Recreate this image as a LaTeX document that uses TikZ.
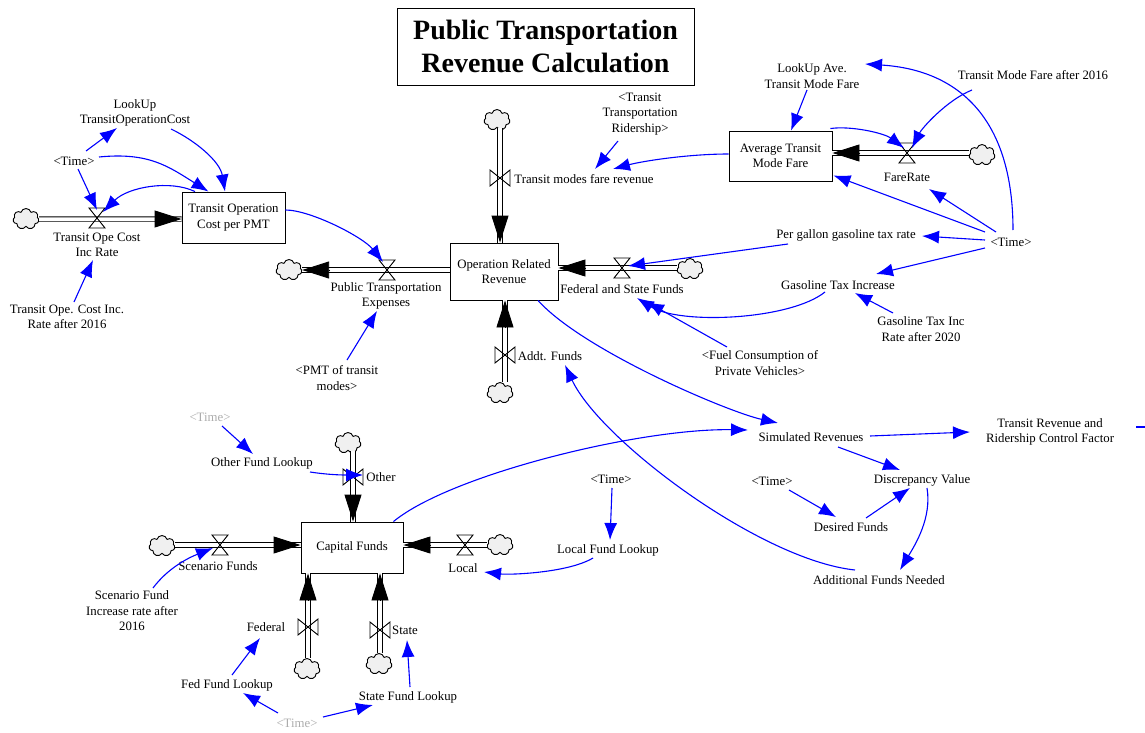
\documentclass[tikz,border=0pt]{standalone}
\usepackage{fontspec}
\setmainfont{Liberation Serif}
\usetikzlibrary{arrows.meta,shapes.symbols,calc}
\newcommand\vfont{\fontsize{12.8}{15.5}\selectfont}
\newcommand\titlefont{\fontsize{28}{33}\selectfont\bfseries}
\tikzset{
  stock/.style={draw, line width=0.9pt, align=center, inner sep=1pt, font=\vfont},
  var/.style={align=center, inner sep=1pt, font=\vfont},
  shadowvar/.style={var, text=gray!65},
  sink/.style={cloud, cloud puffs=7, aspect=1.25, draw, line width=0.9pt, fill=gray!12, minimum width=26pt, minimum height=21pt, inner sep=0pt},
  pipe/.style={draw=black, double=white, double distance=3.5pt, line width=0.9pt},
  flowtip/.style={-{Triangle[length=27pt,width=17pt]}, line width=0.9pt},
  link/.style={blue, line width=1.1pt, -{Latex[length=17pt,width=13pt]}},
  hvalve/.pic={\draw[line width=0.9pt] (-8,-10) -- (8,-10) -- (-8,10) -- (8,10) -- cycle;},
  vvalve/.pic={\draw[line width=0.9pt] (-10,-8) -- (-10,8) -- (10,-8) -- (10,8) -- cycle;}
}
\begin{document}
\begin{tikzpicture}[x=1pt,y=-1pt]
\useasboundingbox (0,0) rectangle (1145,733);
\node[draw, line width=0.9pt, minimum width=297pt, minimum height=77pt, align=center, font=\titlefont] (title) at (545.5,46.5) {Public Transportation\\Revenue Calculation};

% stocks
\node[stock, minimum width=103pt, minimum height=51pt] (toc) at (233.5,217.5) {Transit Operation\\Cost per PMT};
\node[stock, minimum width=108pt, minimum height=57pt] (orr) at (504,271.5) {Operation Related\\Revenue};
\node[stock, minimum width=103pt, minimum height=50pt] (atmf) at (780.5,156) {Average Transit\\Mode Fare};
\node[stock, minimum width=102pt, minimum height=51pt] (cf) at (352,547.5) {Capital Funds};

% clouds
\node[sink] (c1) at (26,219) {};
\node[sink] (c2) at (289,270) {};
\node[sink] (c3) at (497,120) {};
\node[sink] (c4) at (690,269) {};
\node[sink] (c5) at (500,393) {};
\node[sink] (c6) at (982,155) {};
\node[sink] (c7) at (348,443) {};
\node[sink] (c8) at (162,546) {};
\node[sink] (c9) at (500,545) {};
\node[sink] (c10) at (307,669) {};
\node[sink] (c11) at (379,664) {};

% valve positions
\coordinate (vtoc) at (97,218);
\coordinate (vpte) at (387,270);
\coordinate (vfare) at (500,178);
\coordinate (vfsf) at (622,268);
\coordinate (vaddt) at (505,355);
\coordinate (vfr) at (907,153);
\coordinate (voth) at (353,477);
\coordinate (vscen) at (220,545);
\coordinate (vloc) at (465,545);
\coordinate (vfed) at (308,627);
\coordinate (vsta) at (380,630);

% flows
\draw[pipe] (c1.east) -- (c1 -| toc.west);
\draw[flowtip] ($(c1 -| toc.west)+(-27,0)$) -- (c1 -| toc.west);
\draw[pipe] (vpte -| orr.west) -- (c2.east |- vpte);
\draw[flowtip] ($(c2.east |- vpte)+(28,0)$) -- (c2.east |- vpte);
\draw[pipe] (vfare |- c3.south) -- (vfare |- orr.north);
\draw[flowtip] ($(vfare |- orr.north)+(0,-27)$) -- (vfare |- orr.north);
\draw[pipe] (c4.west |- vfsf) -- (vfsf -| orr.east);
\draw[flowtip] ($(vfsf -| orr.east)+(27,0)$) -- (vfsf -| orr.east);
\draw[pipe] (vaddt |- c5.north) -- (vaddt |- orr.south);
\draw[flowtip] ($(vaddt |- orr.south)+(0,27)$) -- (vaddt |- orr.south);
\draw[pipe] (c6.west |- vfr) -- (vfr -| atmf.east);
\draw[flowtip] ($(vfr -| atmf.east)+(28,0)$) -- (vfr -| atmf.east);
\draw[pipe] (voth |- c7.south) -- (voth |- cf.north);
\draw[flowtip] ($(voth |- cf.north)+(0,-27)$) -- (voth |- cf.north);
\draw[pipe] (c8.east |- vscen) -- (vscen -| cf.west);
\draw[flowtip] ($(vscen -| cf.west)+(-27,0)$) -- (vscen -| cf.west);
\draw[pipe] (c9.west |- vloc) -- (vloc -| cf.east);
\draw[flowtip] ($(vloc -| cf.east)+(27,0)$) -- (vloc -| cf.east);
\draw[pipe] (vfed |- c10.north) -- (vfed |- cf.south);
\draw[flowtip] ($(vfed |- cf.south)+(0,27)$) -- (vfed |- cf.south);
\draw[pipe] (vsta |- c11.north) -- (vsta |- cf.south);
\draw[flowtip] ($(vsta |- cf.south)+(0,27)$) -- (vsta |- cf.south);

% valves
\foreach \v in {vtoc,vpte,vfsf,vfr,vscen,vloc} \pic at (\v) {hvalve};
\foreach \v in {vfare,vaddt,voth,vfed,vsta} \pic at (\v) {vvalve};

\node[var] (vtocl) at (97,245) {Transit Ope Cost\\Inc Rate};
\node[var] (vptel) at (386,296) {Public Transportation\\Expenses};
\node[var] (vfarel) at (584,179) {Transit modes fare revenue};
\node[var] (vfsfl) at (622,289) {Federal and State Funds};
\node[var] (vaddtl) at (550,356) {Addt. Funds};
\node[var] (vfrl) at (907,177) {FareRate};
\node[var] (vothl) at (381,477) {Other};
\node[var] (vscenl) at (218,566) {Scenario Funds};
\node[var] (vlocl) at (463,568) {Local};
\node[var] (vfedl) at (266,627) {Federal};
\node[var] (vstal) at (405,630) {State};

% auxiliaries
\node[var] (lutoc) at (135,113) {LookUp\\TransitOperationCost};
\node[var] (time1) at (74,161) {<Time>};
\node[var] (toc16) at (67,317) {Transit Ope. Cost Inc.\\Rate after 2016};
\node[var] (rider) at (640,114) {<Transit\\Transportation\\Ridership>};
\node[var] (pmt) at (337,378) {<PMT of transit\\modes>};
\node[var] (luave) at (812,76) {LookUp Ave.\\Transit Mode Fare};
\node[var] (tmf16) at (1033,75) {Transit Mode Fare after 2016};
\node[var] (time2) at (1011,242) {<Time>};
\node[var] (pgt) at (846,235) {Per gallon gasoline tax rate};
\node[var] (gti) at (838,285) {Gasoline Tax Increase};
\node[var] (gtir) at (921,329) {Gasoline Tax Inc\\Rate after 2020};
\node[var] (fuel) at (760,363) {<Fuel Consumption of\\Private Vehicles>};
\node[shadowvar] (time3) at (210,417) {<Time>};
\node[var] (ofl) at (262,463) {Other Fund Lookup};
\node[var] (simrev) at (811,437) {Simulated Revenues};
\node[var] (trrcf) at (1050,432) {Transit Revenue and\\Ridership Control Factor};
\node[var] (discr) at (922,480) {Discrepancy Value};
\node[var] (time4) at (772,481) {<Time>};
\node[var] (time5) at (611,479) {<Time>};
\node[var] (desf) at (851,527) {Desired Funds};
\node[var] (lfl) at (608,550) {Local Fund Lookup};
\node[var] (afn) at (879,580) {Additional Funds Needed};
\node[var] (sfir) at (132,611) {Scenario Fund\\Increase rate after\\2016};
\node[var] (ffl) at (227,685) {Fed Fund Lookup};
\node[var] (sfl) at (408,697) {State Fund Lookup};
\node[shadowvar] (time6) at (297,723) {<Time>};
\coordinate (offedge) at (1146,427);

% connectors
\draw[link] ($(time1)+(12,-10)$) -- ($(lutoc)+(-18,15)$);
\draw[link] ($(time1)+(25,-4)$) .. controls +(50,-5) and +(-40,-25) .. ($(toc.north)+(-25,0)$);
\draw[link] ($(time1)+(4,8)$) -- ($(vtoc)+(0,-8)$);
\draw[link] ($(lutoc)+(36,16)$) .. controls +(25,12) and +(-5,-30) .. ($(toc.north)+(-8.5,0)$);
\draw[link] ($(toc.north)+(-38.5,0)$) .. controls +(-25,-12) and +(25,-25) .. ($(vtoc)+(6,-6)$);
\draw[link] ($(toc16)+(7,-15)$) -- ($(vtocl)+(-4,15)$);
\draw[link] ($(toc.east)+(0,-7.5)$) .. controls +(25,0) and +(-20,-25) .. ($(vpte)+(-4,-8)$);
\draw[link] ($(pmt)+(10,-18)$) -- ($(vptel)+(-9,15)$);
\draw[link] ($(rider)+(-22,27)$) -- ($(vfarel)+(11,-10)$);
\draw[link] ($(atmf.west)+(0,-2)$) .. controls +(-40,0) and +(30,-8) .. ($(vfarel)+(29,-10)$);
\draw[link] ($(luave)+(-5,14)$) -- ($(atmf.north)+(10.5,0)$);
\draw[link] ($(atmf.north east)+(-2,-2)$) .. controls +(20,-3) and +(-20,-15) .. ($(vfr)+(-3,-5)$);
\draw[link] ($(tmf16)+(-61,15)$) .. controls +(-25,10) and +(10,-20) .. ($(vfr)+(5,-5)$);
\draw[link] ($(time2)+(2,-12)$) .. controls +(0,-110) and +(95,6) .. ($(luave)+(53,-12)$);
\draw[link] ($(time2)+(-26,-10)$) -- ($(atmf.south east)+(1,-6)$);
\draw[link] ($(time2)+(-15,-10)$) -- ($(vfrl)+(22,12)$);
\draw[link] ($(time2)+(-26,-2)$) -- ($(pgt)+(76,1)$);
\draw[link] ($(time2)+(-26,6)$) -- ($(gti)+(38,-11)$);
\draw[link] ($(pgt)+(-58,9)$) -- ($(vfsf)+(6,-2)$);
\draw[link] ($(gti)+(-13,7)$) .. controls +(-35,28) and +(43,27) .. ($(vfsfl)+(15,9)$);
\draw[link] ($(gtir)+(-28,-16)$) -- ($(gti)+(17,8)$);
\draw[link] ($(fuel)+(-33,-16)$) -- ($(vfsfl)+(25,13)$);
\draw[link] ($(orr.south)+(34,0)$) .. controls +(45,50) and +(-50,-11) .. ($(simrev)+(-33,-14)$);
\draw[link] ($(afn)+(-24,-10)$) .. controls +(-95,-10) and +(35,75) .. ($(vaddtl)+(15,9)$);
\draw[link] ($(cf.north east)+(-10,0)$) .. controls +(57,-47) and +(-108,-2) .. ($(simrev)+(-63,-7)$);
\draw[link] ($(simrev)+(59,-1)$) -- ($(trrcf)+(-80,0)$);
\draw[link] ($(simrev)+(27,10)$) -- ($(discr)+(-22,-10)$);
\draw[link] ($(time4)+(17,9)$) -- ($(desf)+(-15,-10)$);
\draw[link] ($(desf)+(15,-9)$) -- ($(discr)+(-12,8)$);
\draw[link] ($(discr)+(5,8)$) .. controls +(5,30) and +(15,-25) .. ($(afn)+(21,-10)$);
\draw[link] ($(time5)+(1,9)$) -- ($(lfl)+(2,-10)$);
\draw[link] ($(lfl)+(-15,8)$) .. controls +(-25,15) and +(25,3) .. ($(vlocl)+(21,4)$);
\draw[link] ($(time3)+(12,9)$) -- ($(ofl)+(-9,-9)$);
\draw[link] ($(ofl)+(48,9)$) .. controls +(20,3) and +(-20,0) .. ($(voth)+(10,-2)$);
\draw[link] ($(sfir)+(21,-23)$) .. controls +(15,-20) and +(-25,10) .. ($(vscen)+(-7,3)$);
\draw[link] ($(ffl)+(5,-10)$) -- ($(vfedl)+(-6,11)$);
\draw[link] ($(sfl)+(2,-10)$) -- ($(vstal)+(2,10)$);
\draw[link] ($(time6)+(-19,-10)$) -- ($(ffl)+(16,8)$);
\draw[link] ($(time6)+(26,-6)$) -- ($(sfl)+(-35,8)$);
\draw[blue, line width=1.1pt] ($(trrcf)+(86,-5)$) -- (offedge);
\end{tikzpicture}
\end{document}
